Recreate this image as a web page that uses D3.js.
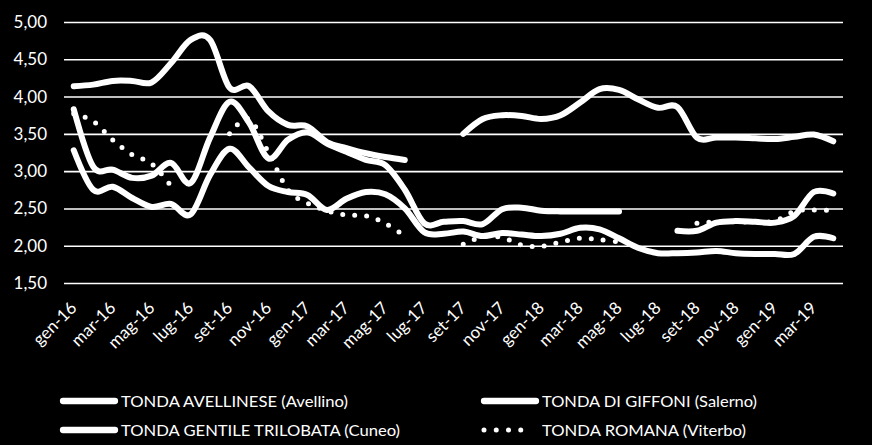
<!DOCTYPE html>
<html>
<head>
<meta charset="utf-8">
<script src="https://cdn.jsdelivr.net/npm/d3@7"></script>
<style>
  body { margin: 0; background: #000; }
  svg { display: block; }
</style>
</head>
<body>
<svg id="chart" width="872" height="445"></svg>
<script>
// months on the x axis
var months = ["gen-16","feb-16","mar-16","apr-16","mag-16","giu-16","lug-16","ago-16","set-16","ott-16","nov-16","dic-16",
              "gen-17","feb-17","mar-17","apr-17","mag-17","giu-17","lug-17","ago-17","set-17","ott-17","nov-17","dic-17",
              "gen-18","feb-18","mar-18","apr-18","mag-18","giu-18","lug-18","ago-18","set-18","ott-18","nov-18","dic-18",
              "gen-19","feb-19","mar-19","apr-19"];
var tickLabels = months.filter(function (_, i) { return i % 2 === 0; });
var yTicks = [1.5, 2, 2.5, 3, 3.5, 4, 4.5, 5];

// prices (null = no quotation)
var avellinese = [3.28,2.75,2.79,2.64,2.52,2.56,2.42,2.95,3.30,3.05,2.80,2.72,
                  2.68,2.48,2.63,2.72,2.69,2.50,2.18,2.16,2.19,2.13,2.17,2.15,
                  2.13,2.16,2.24,2.22,2.10,1.97,1.90,1.90,1.91,1.93,1.90,1.89,
                  1.89,1.89,2.12,2.10];
var giffoni = [3.83,3.06,3.02,2.91,2.94,3.11,2.84,3.45,3.93,3.65,3.17,3.42,
               3.52,3.37,3.26,3.15,3.08,2.75,2.30,2.32,2.33,2.29,2.49,2.51,
               2.47,2.46,2.46,2.46,2.46,null,null,2.20,2.20,2.31,2.33,2.32,
               2.31,2.40,2.72,2.70];
var trilobata = [4.14,4.16,4.21,4.21,4.19,4.45,4.76,4.76,4.12,4.14,3.80,3.62,
                 3.60,3.39,3.31,3.24,3.19,3.15,null,null,3.50,3.70,3.75,3.74,
                 3.70,3.75,3.92,4.10,4.09,3.96,3.85,3.86,3.45,3.45,3.45,3.44,
                 3.43,3.46,3.49,3.40];
var romana = [3.77,3.67,3.42,3.22,3.10,2.80,null,null,3.50,3.70,3.25,2.75,
              2.57,2.47,2.41,2.40,2.30,2.13,null,null,2.02,2.12,2.11,2.01,
              1.99,2.05,2.10,2.08,2.05,null,null,null,2.30,2.32,2.32,2.32,
              2.33,2.46,2.48,2.47];

var seriesNames = ["TONDA AVELLINESE (Avellino)", "TONDA DI GIFFONI (Salerno)",
                   "TONDA GENTILE TRILOBATA (Cuneo)", "TONDA ROMANA (Viterbo)"];

var svg = d3.select("#chart");
var font = "Lato, 'Open Sans', sans-serif";

svg.append("rect").attr("width", 872).attr("height", 445).attr("fill", "#000");

var x = d3.scaleBand().domain(months).range([64, 843]).padding(0);
var y = d3.scaleLinear().domain([1.5, 5]).range([283, 22]);
var cx = function (m) { return x(m) + x.bandwidth() / 2; };

// gridlines + y labels
var yAxis = svg.append("g")
    .attr("transform", "translate(64,0)")
    .call(d3.axisLeft(y).tickValues(yTicks).tickSize(-(843 - 64)).tickPadding(17)
        .tickFormat(function (d) { return d.toFixed(2).replace(".", ","); }));
yAxis.select(".domain").remove();
yAxis.selectAll("line").attr("stroke", "#fff").attr("stroke-width", 1.6);
yAxis.selectAll("text").attr("fill", "#fff").style("font-family", font).style("font-size", "17px");

// x labels
var xAxis = svg.append("g")
    .attr("transform", "translate(0,283)")
    .call(d3.axisBottom(x).tickValues(tickLabels).tickSize(0));
xAxis.select(".domain").remove();
xAxis.selectAll("text")
    .attr("fill", "#fff")
    .attr("x", 0).attr("y", 0).attr("dy", 0)
    .attr("text-anchor", "end")
    .attr("transform", "translate(4,26) rotate(-45)")
    .style("font-family", font).style("font-size", "17px");

var line = d3.line()
    .defined(function (d) { return d.v != null; })
    .x(function (d) { return cx(d.m); })
    .y(function (d) { return y(d.v); })
    .curve(d3.curveCatmullRom.alpha(0));

function pts(arr) { return arr.map(function (v, i) { return { m: months[i], v: v }; }); }

[avellinese, giffoni, trilobata].forEach(function (s) {
    svg.append("path")
        .attr("d", line(pts(s)))
        .attr("fill", "none")
        .attr("stroke", "#fff")
        .attr("stroke-width", 6)
        .attr("stroke-linecap", "round")
        .attr("stroke-linejoin", "round");
});
svg.append("path")
    .attr("d", line(pts(romana)))
    .attr("fill", "none")
    .attr("stroke", "#fff")
    .attr("stroke-width", 5)
    .attr("stroke-linecap", "round")
    .attr("stroke-dasharray", "0 12");

// legend
var legendPos = [
    { x: 63, y: 401, w: 227, dotted: false },
    { x: 484, y: 401, w: 215, dotted: false },
    { x: 63, y: 430, w: 279, dotted: false },
    { x: 484, y: 430, w: 204, dotted: true }
];
var legend = svg.selectAll(".legend").data(seriesNames).enter().append("g")
    .attr("class", "legend")
    .attr("transform", function (_, i) { return "translate(" + legendPos[i].x + "," + legendPos[i].y + ")"; });
legend.append("line")
    .attr("x1", 0).attr("y1", 0).attr("y2", 0)
    .attr("x2", function (_, i) { return legendPos[i].dotted ? 49 : 52; })
    .attr("stroke", "#fff")
    .attr("stroke-width", function (_, i) { return legendPos[i].dotted ? 5 : 6.3; })
    .attr("stroke-linecap", "round")
    .attr("stroke-dasharray", function (_, i) { return legendPos[i].dotted ? "0 12.25" : null; });
legend.append("text")
    .attr("x", 58)
    .attr("y", 0)
    .attr("dy", "0.36em")
    .attr("fill", "#fff")
    .attr("textLength", function (_, i) { return legendPos[i].w; })
    .attr("lengthAdjust", "spacingAndGlyphs")
    .style("font-family", font)
    .style("font-size", "16px")
    .text(function (d) { return d; });
</script>
</body>
</html>
